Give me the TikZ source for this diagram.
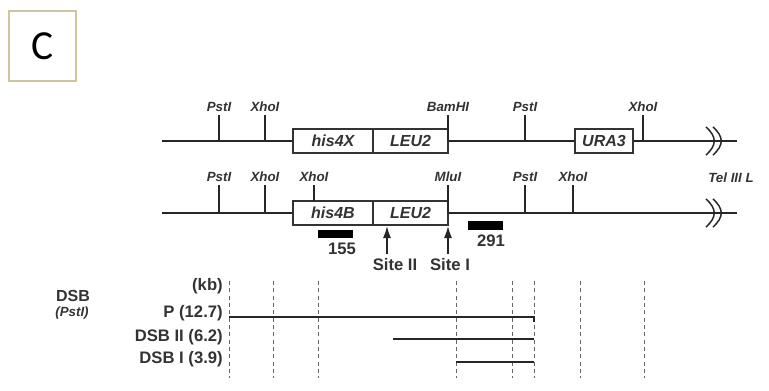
\documentclass[tikz,border=0pt]{standalone}
\usepackage{fontspec}
\setmainfont{Liberation Sans}
\newfontfamily\panelfont{Carlito}
\usetikzlibrary{arrows.meta}

\begin{document}
\begin{tikzpicture}[
	x=0.75pt, y=-0.75pt,
	% Define the styles for the maps and the blot
	chrom/.style={line width=2.2pt, black!85},
	gene/.style={draw=black!80, line width=1pt, fill=white, minimum height=18pt, inner sep=0pt,
		font=\fontsize{12}{14}\selectfont\bfseries\itshape, text=black!80},
	enz/.style={font=\fontsize{10}{12}\selectfont\bfseries\itshape, text=black!80, inner sep=1pt},
	site/.style={line width=1.2pt, black!85},
	probe/.style={fill=black, inner sep=0pt, minimum width=26.25pt, minimum height=6pt},
	num/.style={font=\fontsize{12.5}{14}\selectfont\bfseries, text=black!80, inner sep=0pt},
	frag/.style={line width=1.3pt, black!85},
	guide/.style={black!60, dash pattern=on 3pt off 2.5pt, line width=0.5pt},
	row/.style={font=\fontsize{12.5}{14}\selectfont\bfseries, text=black!80, anchor=east, inner sep=0pt}
	]
	
	\useasboundingbox (0,0) rectangle (769,390);
	
	% --- PANEL LETTER ---
	\node[draw={rgb,255:red,205;green,198;blue,160}, line width=1.2pt, minimum width=50pt, minimum height=52.5pt,
		font=\panelfont\fontsize{31}{31}\selectfont] (C) at (42.5,46) {C};
	
	% --- TOP MAP (his4X) ---
	\coordinate (a0) at (162,141);
	\coordinate (a1) at (737,141);
	\draw[chrom] (a0) -- (a1);
	\node[gene, minimum width=60pt] (his4X) at (333,141) {his4X};
	\node[gene, minimum width=56.25pt] (leuA) at (410.5,141) {LEU2};
	\node[gene, minimum width=43.5pt] (ura3) at (604,141) {URA3};
	\foreach \x/\name in {219/PstI, 265/XhoI, 448/BamHI, 525/PstI, 643/XhoI}
		\draw[site] (\x,141) -- (\x,115) node[enz, above=1pt] {\name};
	
	% --- BOTTOM MAP (his4B) ---
	\coordinate (b0) at (162,213);
	\coordinate (b1) at (737,213);
	\draw[chrom] (b0) -- (b1);
	\node[gene, minimum width=60pt] (his4B) at (333,213) {his4B};
	\node[gene, minimum width=56.25pt] (leuB) at (410.5,213) {LEU2};
	\foreach \x/\y/\name in {219/213/PstI, 265/213/XhoI, 314/201/XhoI, 448/213/MluI, 525/213/PstI, 573/213/XhoI}
		\draw[site] (\x,\y) -- (\x,185) node[enz, above=1pt] {\name};
	\node[enz] (tel) at (731,178) {Tel III L};
	
	% chromosome breaks
	\foreach \y in {141,213}
		\foreach \x in {711,718}
			\draw[line width=1.1pt, black!85] (\x-5,\y-14) .. controls (\x+6,\y-4) and (\x+6,\y+4) .. (\x-5,\y+14);
	
	% --- PROBES AND DSB SITES ---
	\node[probe, minimum height=6pt] (p155) at (335.5,234) {};
	\node[num] (n155) at (342,249) {155};
	\node[probe, minimum height=7pt] (p291) at (485.5,225.5) {};
	\node[num] (n291) at (491,241) {291};
	
	\node[num] (s2) at (395,265) {Site II};
	\node[num] (s1) at (450,265) {Site I};
	\coordinate (s2base) at (387,254);
	\coordinate (s2tip) at (387,226);
	\coordinate (s1base) at (448,254);
	\coordinate (s1tip) at (448,226);
	\draw[site, -{Latex[length=9pt,width=6pt]}] (s2base) -- (s2tip);
	\draw[site, -{Latex[length=9pt,width=6pt]}] (s1base) -- (s1tip);
	
	% --- BLOT ---
	\node[font=\fontsize{12}{14}\selectfont\bfseries, text=black!80] (dsb) at (73,296) {DSB};
	\node[enz, font=\fontsize{10}{12}\selectfont\bfseries\itshape] (pst) at (72,313) {(PstI)};
	
	\node[row] (kb) at (223,286) {(kb)};
	\node[row] (rP) at (223,313) {P (12.7)};
	\node[row] (r2) at (223,337) {DSB II (6.2)};
	\node[row] (r1) at (223,359) {DSB I (3.9)};
	
	\foreach \x in {229,273,318,456,512,534,580,644}
		\draw[guide] (\x,281) -- (\x,378);
	
	\coordinate (P0) at (229,317);
	\coordinate (P1) at (534,317);
	\coordinate (P2) at (534,322);
	\coordinate (D20) at (393,339);
	\coordinate (D21) at (534,339);
	\coordinate (D10) at (456,362);
	\coordinate (D11) at (534,362);
	\draw[frag] (P0) -- (P1) -- (P2);
	\draw[frag] (D20) -- (D21);
	\draw[frag] (D10) -- (D11);
	
\end{tikzpicture}
\end{document}
